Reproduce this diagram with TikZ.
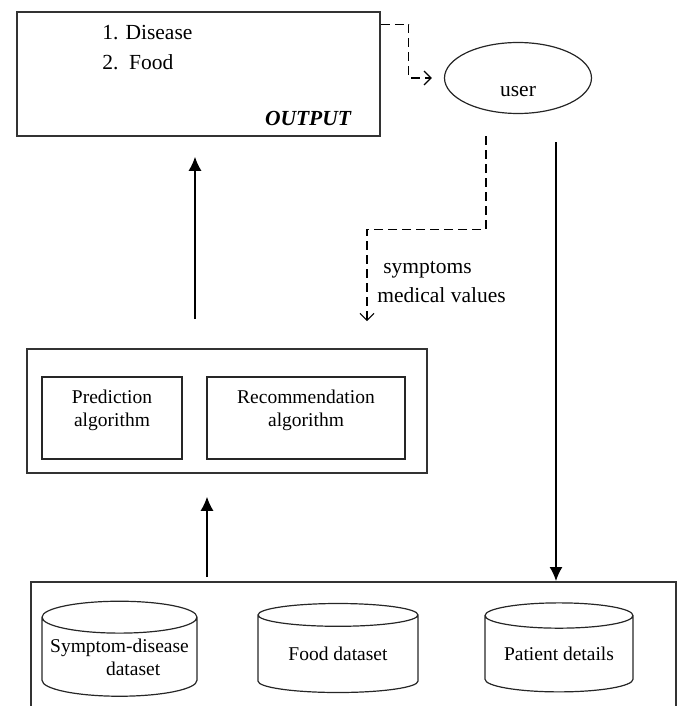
\documentclass[tikz,border=0pt]{standalone}
\usepackage{fontspec}
\setmainfont{Liberation Serif}
\usetikzlibrary{arrows,arrows.meta,shapes.geometric,positioning,calc}

\begin{document}
\begin{tikzpicture}[x=1pt,y=-1pt,semithick]
	\tikzstyle{frame}=[draw=black!80,line width=1.6pt,rectangle,inner sep=0pt]
	\tikzstyle{algbox}=[draw=black!85,line width=1.4pt,rectangle,inner sep=0pt,minimum height=82pt]
	\tikzstyle{db}=[draw=black!85,line width=1.2pt,cylinder,shape border rotate=90,aspect=0.23,minimum width=155pt,minimum height=95pt,inner sep=0pt,font=\fontsize{19.5}{23}\selectfont,align=center]
	\tikzstyle{big}=[inner sep=0pt,font=\fontsize{21.5}{26}\selectfont]
	\tikzstyle{small}=[inner sep=0pt,align=center,font=\fontsize{19.5}{23}\selectfont]
	\tikzstyle{flow}=[-{Latex[length=14pt,width=13pt]},line width=1.4pt]
	\tikzstyle{dashflow}=[-{Straight Barb[length=7pt,width=14pt]},line width=1.2pt,dash pattern=on 9pt off 5pt]
	\useasboundingbox (0,0) rectangle (683,706);
	\clip (0,0) rectangle (683,706);
	\node[frame,minimum width=363pt,minimum height=124pt] (output) at (198.5,74) {};
	\node[big,anchor=west] (disease) at (102,33) {1. Disease};
	\node[big,anchor=west] (food) at (102,62) {2.\ \ Food};
	\node[big,font=\fontsize{21.5}{26}\selectfont\bfseries\itshape] (outlabel) at (308,118) {OUTPUT};
	\node[draw=black!85,line width=1.2pt,ellipse,minimum width=147pt,minimum height=71pt] (user) at (518,78) {};
	\node[big] (usertext) at ([yshift=-14pt]user.center) {user};
	\node[frame,minimum width=400pt,minimum height=124pt] (engine) at (227,411) {};
	\node[algbox,minimum width=140pt] (pred) at (112,418) {};
	\node[algbox,minimum width=198pt] (rec) at (306,418) {};
	\node[small] (predtext) at ([yshift=8pt]pred.center) {Prediction\\algorithm};
	\node[small] (rectext) at ([yshift=8pt]rec.center) {Recommendation\\algorithm};
	\node[frame,minimum width=645pt,minimum height=160pt,anchor=north west] (data) at (30,581) {};
	\node[db] (symdis) at (119.5,657) {Symptom-disease\\\hspace*{1.4em}dataset};
	\node[db,minimum width=160pt,minimum height=89pt] (fooddb) at (338,654) {Food dataset};
	\node[db,minimum width=148pt,minimum height=89pt] (patient) at (559,654) {Patient details};
	\node[big,anchor=west] (symptoms) at (383,270) {symptoms};
	\node[big,anchor=west] (medvalues) at (377,295) {medical values};
	\coordinate (drop) at ([xshift=38pt,yshift=-28pt]user.south);
	\coordinate (up1) at ([xshift=-32pt]engine.north);
	\coordinate (up2) at ([xshift=-20pt]engine.south);
	\draw[dashflow,shorten >=12pt] ([yshift=-13pt]output.north east) -- ++(28,0) |- (user.west);
	\draw[dashflow] ([xshift=-32pt,yshift=-22pt]user.south) -- ++(0,93) -| ([xshift=140pt,yshift=27pt]engine.north);
	\draw[flow] (drop) -- (drop |- data.north);
	\draw[flow,shorten <=29pt,shorten >=20pt] (up1) -- (up1 |- output.south);
	\draw[flow,shorten <=4pt,shorten >=23pt] (up2 |- data.north) -- (up2);
\end{tikzpicture}
\end{document}
